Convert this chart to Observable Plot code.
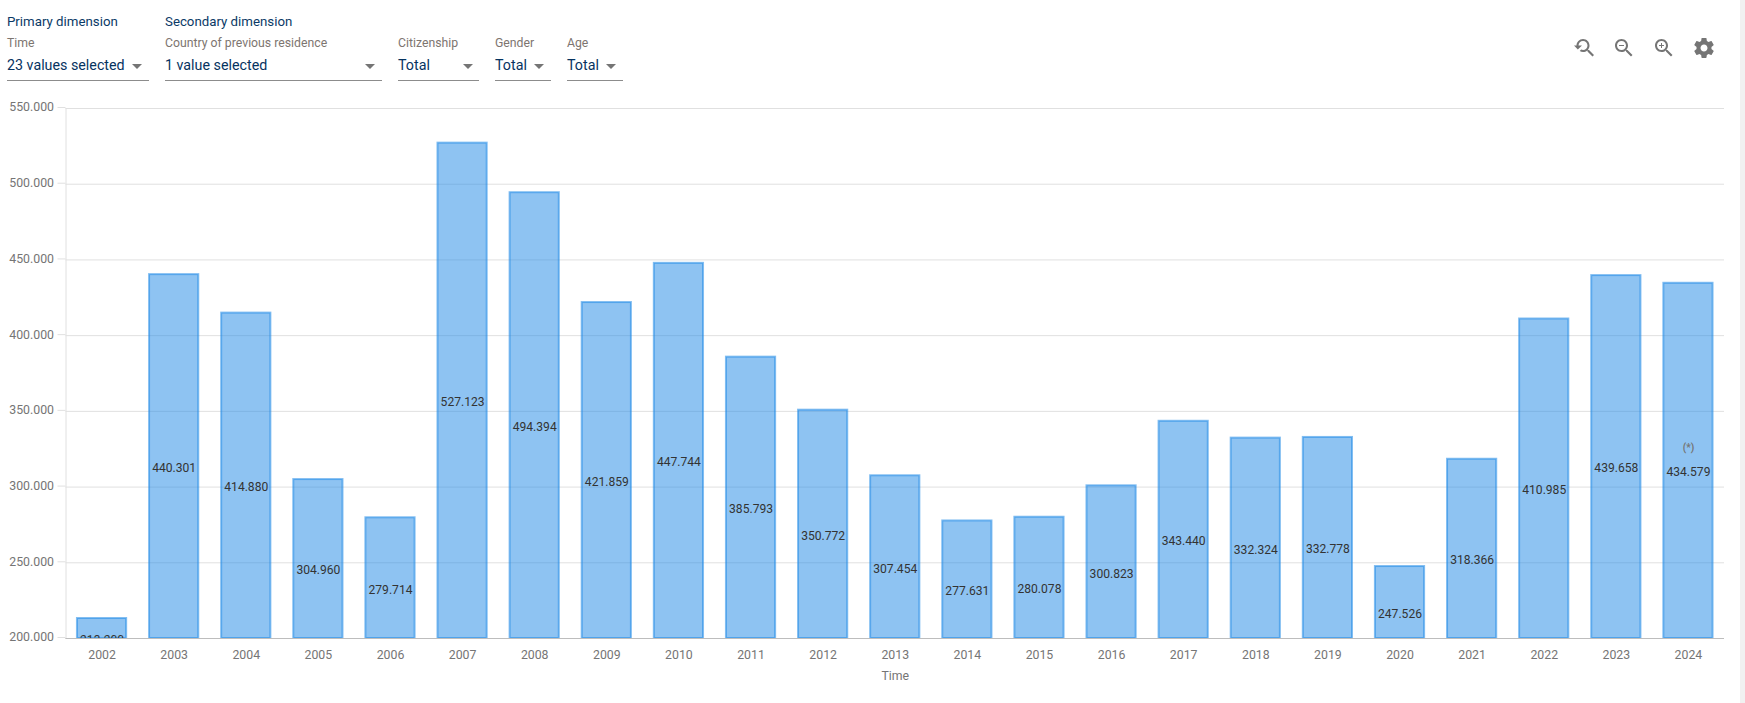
<!DOCTYPE html>
<html>
<head>
<meta charset="utf-8">
<script src="https://cdn.jsdelivr.net/npm/d3@7"></script>
<script src="https://cdn.jsdelivr.net/npm/@observablehq/plot@0.6"></script>
<style>
html,body{margin:0;padding:0;background:#fff;overflow:hidden;width:1745px;height:703px;font-family:Roboto,sans-serif}
#head{position:relative;height:92px;width:1745px}
#scroll{position:absolute;left:1740px;top:0;width:5px;height:703px;background:#f1f1f1}
.dim{position:absolute;top:13px;font-size:13.27px;line-height:17px;color:#0a3a66;white-space:nowrap}
.dim.a{left:7px}.dim.b{left:165px}
.f{position:absolute;top:35px;height:45px;border-bottom:1px solid #8c8c8c}
.f .l{position:absolute;left:0;top:0;font-size:12.25px;line-height:16px;color:#7d7570;white-space:nowrap}
.f .v{position:absolute;left:0;top:21px;font-size:14.27px;line-height:18px;color:#06335f;white-space:nowrap}
.f .t{position:absolute;top:29px;width:0;height:0;border-left:5px solid transparent;border-right:5px solid transparent;border-top:5px solid #757575}
.f:nth-of-type(3){left:7px;width:142px}.f:nth-of-type(3) .t{left:125px}
.f:nth-of-type(4){left:165px;width:217px}.f:nth-of-type(4) .t{left:200px}
.f:nth-of-type(5){left:398px;width:81px}.f:nth-of-type(5) .t{left:65px}
.f:nth-of-type(6){left:495px;width:56px}.f:nth-of-type(6) .t{left:39px}
.f:nth-of-type(7){left:567px;width:56px}.f:nth-of-type(7) .t{left:39px}
.ic{position:absolute;top:36px;width:24px;height:24px;fill:#757575}
svg.plot{display:block}
</style>
</head>
<body>
<div id="head"></div>
<div id="chart"></div>
<div id="scroll"></div>
<script>
const years = ["2002","2003","2004","2005","2006","2007","2008","2009","2010","2011","2012","2013","2014","2015","2016","2017","2018","2019","2020","2021","2022","2023","2024"];
const values = [213200,440301,414880,304960,279714,527123,494394,421859,447744,385793,350772,307454,277631,280078,300823,343440,332324,332778,247526,318366,410985,439658,434579];
const flags = ["","","","","","","","","","","","","","","","","","","","","","","(*)"];
const yTicks = [200000,250000,300000,350000,400000,450000,500000,550000];
const dimensionTitles = ["Primary dimension","Secondary dimension"];
const filterLabels = ["Time","Country of previous residence","Citizenship","Gender","Age"];
const filterValues = ["23 values selected","1 value selected","Total","Total","Total"];
const yBase = 200000;

const fmt = d3.formatLocale({decimal:",",thousands:".",grouping:[3],currency:["","€"]}).format(",d");
const rows = years.map((year,i)=>({year,value:values[i],flag:flags[i],mid:(values[i]+yBase)/2}));

const head = document.getElementById("head");
dimensionTitles.forEach((t,i)=>{
  const d=document.createElement("div");d.className="dim "+(i?"b":"a");d.textContent=t;head.appendChild(d);
});
filterLabels.forEach((t,i)=>{
  const f=document.createElement("div");f.className="f";
  const l=document.createElement("div");l.className="l";l.textContent=t;
  const v=document.createElement("div");v.className="v";v.textContent=filterValues[i];
  const a=document.createElement("div");a.className="t";
  f.append(l,v,a);head.appendChild(f);
});
const lens="M15.5 14h-.79l-.28-.27C15.41 12.59 16 11.11 16 9.5 16 5.91 13.09 3 9.5 3S3 5.91 3 9.5 5.91 16 9.5 16c1.61 0 3.09-.59 4.23-1.57l.27.28v.79l5 4.99L20.49 19l-4.99-5zm-6 0C7.01 14 5 11.99 5 9.5S7.01 5 9.5 5 14 7.01 14 9.5 11.99 14 9.5 14z";
const icons=[
 [1572,"M17.01 14h-.8l-.27-.27c.98-1.14 1.57-2.61 1.57-4.23 0-3.59-2.91-6.5-6.5-6.5s-6.5 3-6.5 6.5H2l3.84 4 4.16-4H6.51C6.51 7 8.53 5 11.01 5s4.5 2.01 4.5 4.5c0 2.48-2.02 4.5-4.5 4.5-.65 0-1.26-.14-1.82-.38L7.71 15.1c.97.57 2.09.9 3.3.9 1.61 0 3.08-.59 4.22-1.57l.27.27v.79l5.01 4.99L22 19l-4.99-5z"],
 [1612,lens+"M7 9h5v1H7z"],
 [1652,lens+"M12 10h-2v2H9v-2H7V9h2V7h1v2h2v1z"],
 [1692,"M19.43 12.98c.04-.32.07-.64.07-.98s-.03-.66-.07-.98l2.11-1.65c.19-.15.24-.42.12-.64l-2-3.46c-.12-.22-.39-.3-.61-.22l-2.49 1c-.52-.4-1.08-.73-1.69-.98l-.38-2.65C14.46 2.18 14.25 2 14 2h-4c-.25 0-.46.18-.49.42l-.38 2.65c-.61.25-1.17.59-1.69.98l-2.49-1c-.23-.09-.49 0-.61.22l-2 3.46c-.13.22-.07.49.12.64l2.11 1.65c-.04.32-.07.65-.07.98s.03.66.07.98l-2.11 1.65c-.19.15-.24.42-.12.64l2 3.46c.12.22.39.3.61.22l2.49-1c.52.4 1.08.73 1.69.98l.38 2.65c.03.24.24.42.49.42h4c.25 0 .46-.18.49-.42l.38-2.65c.61-.25 1.17-.59 1.69-.98l2.49 1c.23.09.49 0 .61-.22l2-3.46c.12-.22.07-.49-.12-.64l-2.11-1.65zM12 15.5c-1.93 0-3.5-1.57-3.5-3.5s1.57-3.5 3.5-3.5 3.5 1.57 3.5 3.5-1.57 3.5-3.5 3.5z"]
];
icons.forEach(([x,p])=>{
  const s=document.createElementNS("http://www.w3.org/2000/svg","svg");
  s.setAttribute("class","ic");s.setAttribute("viewBox","0 0 24 24");s.style.left=x+"px";
  const q=document.createElementNS("http://www.w3.org/2000/svg","path");q.setAttribute("d",p);s.appendChild(q);head.appendChild(s);
});

const chart = Plot.plot({
  width:1745, height:611,
  marginTop:16, marginBottom:65, marginLeft:65.5, marginRight:21,
  style:{fontFamily:"Roboto, sans-serif",fontSize:"12px",background:"transparent",overflow:"visible"},
  x:{type:"band",domain:years,paddingInner:0.29,paddingOuter:0.145,align:0.5,round:false,label:null},
  y:{domain:[200000,550000],label:null},
  marks:[
    Plot.gridY(yTicks,{stroke:"#e0e0e0",strokeOpacity:1,strokeWidth:1}),
    Plot.frame({anchor:"left",stroke:"#e0e0e0"}),
    Plot.barY(rows,{x:"year",y1:()=>yBase,y2:"value",fill:"#1e88e5",fillOpacity:0.5,stroke:"#1e88e5",strokeOpacity:0.55,strokeWidth:2,insetLeft:1,insetRight:1}),
    Plot.ruleY([yBase],{stroke:"#bdbdbd",strokeWidth:1}),
    Plot.axisY({ticks:yTicks,tickFormat:fmt,tickSize:8,tickPadding:4,stroke:"#e0e0e0",color:"#757575",fontSize:12.3,label:null,dy:-1}),
    Plot.axisX({tickSize:0,tickPadding:12,color:"#757575",fontSize:12.3,label:"Time",labelAnchor:"center",labelArrow:"none",labelOffset:41}),
    Plot.text(rows,{x:"year",y:"mid",text:d=>fmt(d.value),dy:11.5,fill:"#333333",fontSize:12.1,clip:true}),
    Plot.text(rows.filter(d=>d.flag),{x:"year",y:"mid",text:"flag",dy:-13,fill:"#757575",fontSize:10,fontWeight:"bold"})
  ]
});
document.getElementById("chart").appendChild(chart);
</script>
</body>
</html>
